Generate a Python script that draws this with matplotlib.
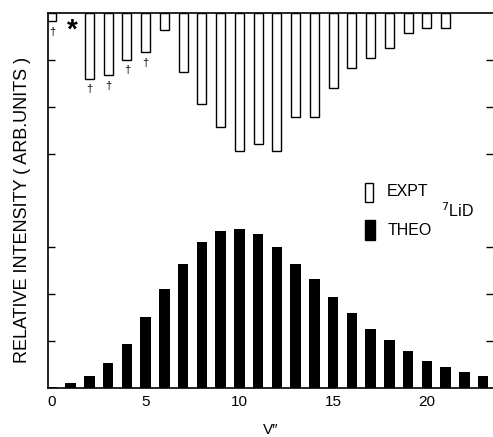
import numpy as np
import matplotlib
matplotlib.use('Agg')
import matplotlib.pyplot as plt
from matplotlib.patches import Rectangle

plt.rcParams['font.family'] = ['Liberation Sans', 'DejaVu Sans']

# vibrational level v''
v = np.arange(24)

# experimental intensities (hanging from the top), v''=1 not measured
expt_v = [0, 2, 3, 4, 5, 6, 7, 8, 9, 10, 11, 12, 13, 14, 15, 16, 17, 18, 19, 20, 21]
expt = [0.17, 1.40, 1.32, 0.99, 0.84, 0.36, 1.25, 1.94, 2.42, 2.94, 2.80, 2.94,
        2.21, 2.21, 1.60, 1.18, 0.96, 0.75, 0.43, 0.31, 0.31]

# theoretical intensities
theo = [0.02, 0.10, 0.26, 0.53, 0.95, 1.51, 2.11, 2.65, 3.11, 3.35, 3.39, 3.28,
        3.01, 2.65, 2.33, 1.95, 1.60, 1.27, 1.03, 0.79, 0.58, 0.44, 0.35, 0.25]

# levels marked with a dagger
dagger_v = [0, 2, 3, 4, 5]

top = 8.0

fig = plt.figure(figsize=(4.93, 4.37), dpi=100)
ax = fig.add_axes([0.098, 0.112, 0.902, 0.858])

ax.bar(v, theo, width=0.56, color='black')
ax.bar(expt_v, [-e for e in expt], bottom=top, width=0.48,
       facecolor='white', edgecolor='black', linewidth=1.0)

for dv in dagger_v:
    d = expt[expt_v.index(dv)]
    ax.text(dv, top - d - 0.12, '†', ha='center', va='top', fontsize=8)

ax.text(1.1, 7.62, '*', ha='center', va='center', fontsize=20, fontweight='bold')

ax.set_xlim(-0.19, 23.52)
ax.set_ylim(0, top)
ax.set_xticks([0, 5, 10, 15, 20])
ax.set_yticks([1, 2, 3, 5, 6, 7])
ax.set_yticklabels([])
ax.tick_params(axis='x', length=0, labelsize=11, pad=5)
ax.tick_params(axis='y', direction='in', length=5, width=1, right=True)
ax.spines['right'].set_visible(False)
for s in ['left', 'bottom', 'top']:
    ax.spines[s].set_linewidth(1.2)

ax.set_xlabel("V\u2033", fontsize=11, labelpad=10)
ax.set_ylabel('RELATIVE INTENSITY ( ARB.UNITS )', fontsize=13)
ax.yaxis.set_label_coords(-0.038, 0.475)

# legend
ax.add_patch(Rectangle((0.712, 0.496), 0.018, 0.051, transform=ax.transAxes,
                       facecolor='white', edgecolor='black', lw=1))
ax.add_patch(Rectangle((0.712, 0.395), 0.0225, 0.053, transform=ax.transAxes,
                       facecolor='black', edgecolor='black', lw=1))
ax.text(0.762, 0.523, 'EXPT', transform=ax.transAxes, va='center', fontsize=11.5)
ax.text(0.762, 0.421, 'THEO', transform=ax.transAxes, va='center', fontsize=11.5)
ax.text(0.884, 0.472, r'$^7$LiD', transform=ax.transAxes, va='center', fontsize=11.5)

fig.savefig('out.png', dpi=100)
